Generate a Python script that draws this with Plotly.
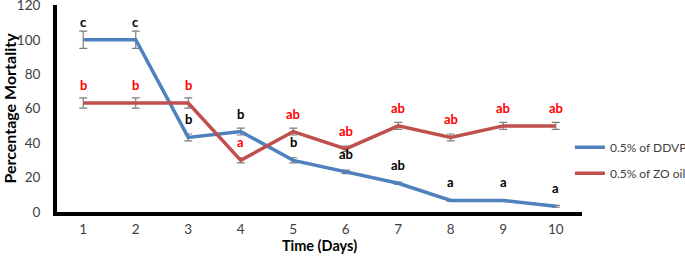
import plotly.graph_objects as go

days = [1, 2, 3, 4, 5, 6, 7, 8, 9, 10]
ddvp = [100, 100, 43.3, 46.7, 30, 23.3, 16.7, 6.7, 6.7, 3.3]
ddvp_err = [5, 5, 2, 2, 1.5, 1, 0.7, 0.5, 0.5, 0.5]
ddvp_letters = ["c", "c", "b", "b", "b", "ab", "ab", "a", "a", "a"]
zo = [63.3, 63.3, 63.3, 30, 46.7, 36.7, 50, 43.3, 50, 50]
zo_err = [3, 3, 3, 1.5, 2, 1.5, 2, 2, 2, 2]
zo_letters = ["b", "b", "b", "a", "ab", "ab", "ab", "ab", "ab", "ab"]
y_ticks = [0, 20, 40, 60, 80, 100, 120]

FONT = "Lato"
BLUE = "#4F81BD"
RED = "#C0504D"
ERR = "#7F7F7F"

fig = go.Figure()
fig.add_trace(go.Scatter(
    x=days, y=ddvp, mode="lines", name="0.5% of DDVP",
    line=dict(color=BLUE, width=3.5), legendgroup="a",
    error_y=dict(type="data", array=ddvp_err, color=ERR, thickness=1.2, width=4),
))
fig.add_trace(go.Scatter(
    x=days, y=zo, mode="lines", name="0.5% of ZO oil",
    line=dict(color=RED, width=3.5), legendgroup="b",
    error_y=dict(type="data", array=zo_err, color=ERR, thickness=1.2, width=4),
))

annotations = []
for d, v, t in zip(days, ddvp, ddvp_letters):
    annotations.append(dict(x=d, y=v, text=t, showarrow=False, yshift=18,
                            font=dict(family=FONT, size=13, color="black", weight="bold")))
for d, v, t in zip(days, zo, zo_letters):
    annotations.append(dict(x=d, y=v, text=t, showarrow=False, yshift=18,
                            font=dict(family=FONT, size=13, color="#FF0000", weight="bold")))

fig.update_layout(
    width=685, height=257,
    margin=dict(l=57, r=103, t=5, b=45, autoexpand=False),
    plot_bgcolor="white", paper_bgcolor="white",
    font=dict(family=FONT, size=12, color="#404040"),
    showlegend=True,
    legend=dict(x=0.977, y=0.25, xanchor="left", yanchor="middle",
                font=dict(family=FONT, size=12, color="#404040"),
                itemwidth=30, tracegroupgap=7, bgcolor="rgba(0,0,0,0)"),
    annotations=annotations,
    xaxis=dict(range=[0.5, 10.5], tickvals=days, showline=True, linecolor="black",
               linewidth=4, showgrid=False, zeroline=False, ticks="", ticklabelstandoff=2,
               automargin=False, ticklabeloverflow="allow",
               title=dict(text="Time (Days)", font=dict(family=FONT, size=14.5, color="black", weight="bold"), standoff=6),
               tickfont=dict(family=FONT, size=13.5, color="#404040")),
    yaxis=dict(range=[0, 120.2], tickvals=y_ticks, showline=True,
               linecolor="black", linewidth=4, showgrid=False, zeroline=False, ticks="",
               ticklabelstandoff=10, automargin=False, ticklabeloverflow="allow",
               title=dict(text="Percentage Mortality", font=dict(family=FONT, size=16, color="black", weight="bold"), standoff=4),
               tickfont=dict(family=FONT, size=13.5, color="#404040")),
)

fig.write_html("out.html", config={"displayModeBar": False},
               post_script="document.body.style.margin='0';document.body.style.overflow='hidden';")
